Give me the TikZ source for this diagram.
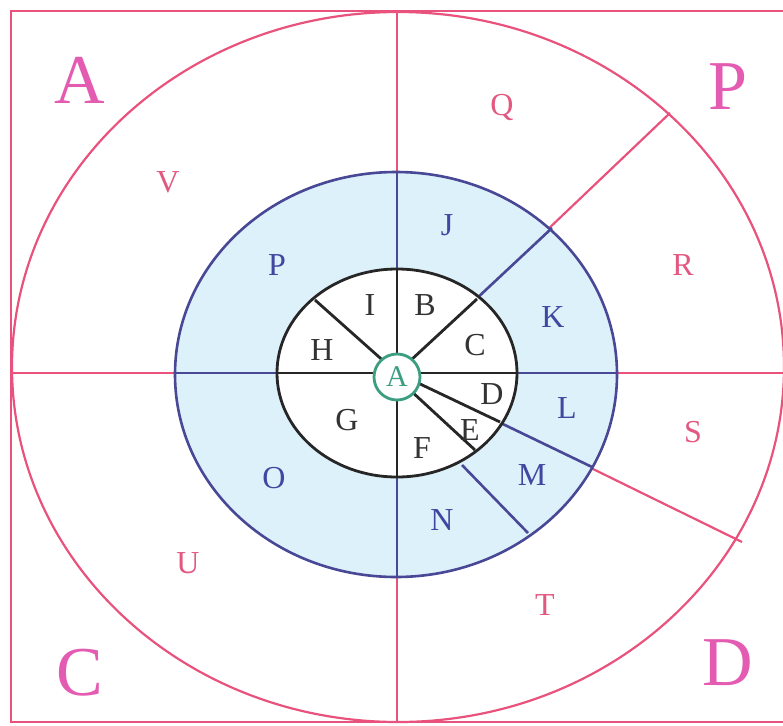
\documentclass[tikz,border=0pt]{standalone}
\usepackage{fontspec}
\setmainfont{Liberation Serif}
\definecolor{pinkline}{RGB}{232,82,125}
\definecolor{pinktext}{RGB}{226,88,128}
\definecolor{magtext}{RGB}{228,92,178}
\definecolor{blueline}{RGB}{72,72,150}
\definecolor{bluetext}{RGB}{62,72,160}
\definecolor{lightblue}{RGB}{221,241,250}
\definecolor{greenc}{RGB}{60,158,128}
\tikzset{
  pinkl/.style={draw=pinkline,line width=2.2pt},
  bluel/.style={draw=blueline,line width=2.6pt},
  blackl/.style={draw=black!85,line width=2.8pt},
  lbl/.style={inner sep=0pt,font=\fontsize{32}{36}\selectfont},
  inlbl/.style={lbl,text=black!80},
  bllbl/.style={lbl,text=bluetext},
  pklbl/.style={lbl,text=pinktext},
  biglbl/.style={inner sep=0pt,text=magtext,font=\fontsize{70}{76}\selectfont}
}
\begin{document}
\begin{tikzpicture}[x=1pt,y=-1pt]
\useasboundingbox (0,0) rectangle (783,725);
\begin{scope}
\clip (0,0) rectangle (783,725);
% outer frame and ellipse
\draw[pinkl] (11,11) rectangle (786,722);
\draw[pinkl] (398,367) ellipse [x radius=386, y radius=355];
% pink dividers
\draw[pinkl] (397,11) -- (397,722);
\draw[pinkl] (11,373) -- (786,373);
\draw[pinkl] (397,373) -- (670,113);
\draw[pinkl] (397,373) -- (742,542);
% blue ring
\draw[bluel,fill=lightblue] (396,374.5) ellipse [x radius=221, y radius=202.5];
\draw[bluel] (397,172) -- (397,577);
\draw[bluel] (175,373) -- (617,373);
\draw[bluel] (397,373) -- (552,228);
\draw[bluel] (397,373) -- (592,467);
\draw[bluel] (462,465) -- (528,533);
% inner black ellipse
\draw[blackl,fill=white] (397,373) ellipse [x radius=120, y radius=104];
\draw[blackl] (397,269) -- (397,477);
\draw[blackl] (277,373) -- (517,373);
\draw[blackl] (397,373) -- (315,300);
\draw[blackl] (397,373) -- (477,299);
\draw[blackl] (397,373) -- (500,422);
\draw[blackl] (410,390) -- (475,450);
\end{scope}
% centre circle
\node[circle,draw=greenc,line width=2.8pt,fill=white,minimum size=46pt,inner sep=0pt,
      text=greenc,font=\fontsize{30}{32}\selectfont] (ca) at (397,377) {A};
% corner letters
\node[biglbl] (bigA) at (80,80) {A};
\node[biglbl] (bigP) at (728,87) {P};
\node[biglbl] (bigC) at (80,673) {C};
\node[biglbl] (bigD) at (728,663) {D};
% pink labels
\node[pklbl] (lq) at (502,107) {Q};
\node[pklbl] (lv) at (168,182) {V};
\node[pklbl] (lr) at (683,265) {R};
\node[pklbl] (ls) at (693,432) {S};
\node[pklbl] (lt) at (545,605) {T};
\node[pklbl] (lu) at (188,563) {U};
% blue labels
\node[bllbl] (lj) at (447,225) {J};
\node[bllbl] (lk) at (553,317) {K};
\node[bllbl] (ll) at (567,408) {L};
\node[bllbl] (lm) at (532,475) {M};
\node[bllbl] (ln) at (442,520) {N};
\node[bllbl] (lo) at (274,478) {O};
\node[bllbl] (lp) at (277,265) {P};
% inner labels
\node[inlbl] (li) at (370,305) {I};
\node[inlbl] (lb) at (425,305) {B};
\node[inlbl] (lh) at (322,350) {H};
\node[inlbl] (lc) at (475,345) {C};
\node[inlbl] (ld) at (492,394) {D};
\node[inlbl] (le) at (470,430) {E};
\node[inlbl] (lg) at (347,420) {G};
\node[inlbl] (lf) at (422,448) {F};
\end{tikzpicture}
\end{document}
